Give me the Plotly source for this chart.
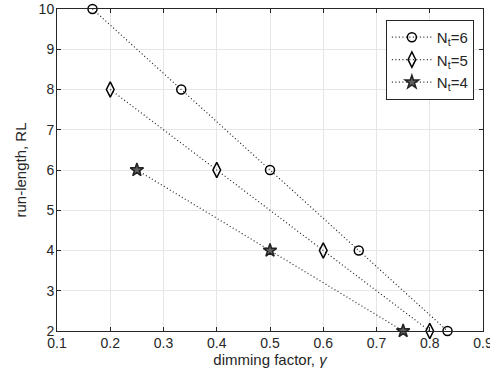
import plotly.graph_objects as go

x_nt6 = [1/6, 2/6, 3/6, 4/6, 5/6]
y_nt6 = [10, 8, 6, 4, 2]
x_nt5 = [0.2, 0.4, 0.6, 0.8]
y_nt5 = [8, 6, 4, 2]
x_nt4 = [0.25, 0.5, 0.75]
y_nt4 = [6, 4, 2]

names = ["N<sub>t</sub>=6", "N<sub>t</sub>=5", "N<sub>t</sub>=4"]
symbols = ["circle-open", "diamond-tall-open", "star"]
sizes = [9, 11, 10]

fig = go.Figure()
for xs, ys, nm, sym, sz in zip([x_nt6, x_nt5, x_nt4], [y_nt6, y_nt5, y_nt4], names, symbols, sizes):
    fig.add_trace(go.Scatter(
        x=xs, y=ys, name=nm, mode="lines+markers", cliponaxis=False,
        line=dict(color="#222222", width=1.2, dash="1px,2.5px"),
        marker=dict(symbol=sym, size=sz, color="#606060" if sym == "star" else "black",
                    line=dict(color="#222222", width=1.5)),
    ))

axis_common = dict(
    showline=True, mirror="ticks", linecolor="#262626", linewidth=1,
    ticks="inside", ticklen=4, tickcolor="#262626", automargin=False,
    showgrid=True, gridcolor="#e6e6e6", gridwidth=1, zeroline=False,
    tickfont=dict(family="Liberation Sans, Arial", size=14, color="#262626"),
)
# Figure is 10px wider than the window so the last x label is cut by the window edge, as in the reference.
fig.update_layout(
    width=500, height=380,
    margin=dict(l=57, r=17, t=9, b=49),
    paper_bgcolor="white", plot_bgcolor="white",
    font=dict(family="Liberation Sans, Arial", size=14, color="#262626"),
    xaxis=dict(range=[0.1, 0.9], dtick=0.1, tickformat=".1f",
               title=dict(text="dimming factor, <i>γ</i>", font=dict(size=15), standoff=4),
               ticklabelstandoff=-1, **axis_common),
    yaxis=dict(range=[2, 10], dtick=1,
               title=dict(text="run-length, RL", font=dict(size=15), standoff=8),
               ticklabelstandoff=-1, **axis_common),
    legend=dict(x=0.772, y=0.966, xanchor="left", yanchor="top",
                bgcolor="white", bordercolor="#262626", borderwidth=1,
                font=dict(size=15), tracegroupgap=4, itemwidth=40),
    showlegend=True,
)
fig.write_html("out.html", config={"displayModeBar": False},
               post_script="document.body.style.margin='0';document.body.style.overflow='hidden';")
